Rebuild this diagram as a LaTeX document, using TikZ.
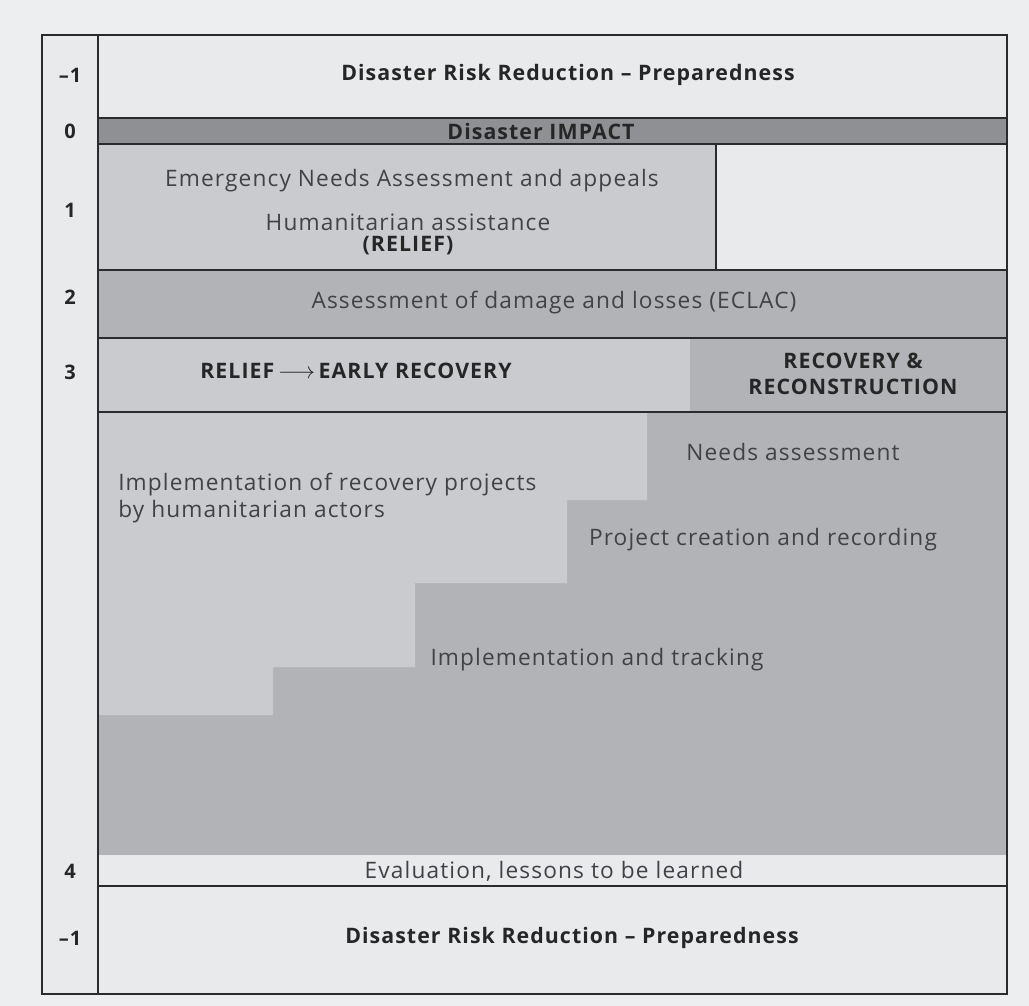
\documentclass[tikz,border=0pt]{standalone}
\usepackage{fontspec}
\setmainfont{Open Sans}[LetterSpace=5]
\usetikzlibrary{positioning}
\definecolor{pagebg}{HTML}{ECEEF0}
\definecolor{rowpale}{HTML}{E8EAEC}
\definecolor{rowdark}{HTML}{8E9093}
\definecolor{rowlight}{HTML}{C9CBCE}
\definecolor{rowmid}{HTML}{B1B3B6}
\definecolor{textgray}{HTML}{404246}
\definecolor{framecol}{HTML}{2A2B2D}
\tikzset{
  rowline/.style={draw=framecol,line width=1.6pt},
  bodytext/.style={font=\fontsize{17}{20}\selectfont,text=textgray,align=center,inner sep=0pt},
  headtext/.style={bodytext,font=\fontsize{16}{20}\selectfont\bfseries,text=black!85},
  numtext/.style={headtext,font=\fontsize{15}{17}\selectfont\bfseries}
}

\begin{document}
\begin{tikzpicture}[x=0.75pt,y=-0.75pt]
  \useasboundingbox (0,0) rectangle (1029,1006);
  \fill[pagebg] (0,0) rectangle (1029,1006);
  % row fills
  \fill[rowpale] (42,35) rectangle (98,994);
  \fill[rowpale] (98,35) rectangle (1007,118);
  \fill[rowdark] (98,118) rectangle (1007,144);
  \fill[rowlight] (98,144) rectangle (716,270);
  \fill[rowpale] (716,144) rectangle (1007,270);
  \fill[rowmid] (98,270) rectangle (1007,338);
  \fill[rowlight] (98,338) rectangle (690,412);
  \fill[rowmid] (690,338) rectangle (1007,412);
  \fill[rowmid] (98,412) rectangle (1007,855);
  \fill[rowlight] (98,412) -| (647,500) -| (567,583) -| (415,667) -| (273,715) -- (98,715) -- cycle;
  \fill[rowpale] (98,855) rectangle (1007,994);
  % frame
  \draw[rowline] (42,35) rectangle (1007,994);
  \draw[rowline] (98,35) -- (98,994);
  \foreach \yy in {118,144,270,338,412,886}
    \draw[rowline] (98,\yy) -- (1007,\yy);
  \draw[rowline] (716,144) -- (716,270);

  % phase numbers
  \foreach \num/\yy/\tag in {{--1}/75/a, 0/131/b, 1/210/c, 2/297/d, 3/372/e, 4/871/f, {--1}/938/g}
    \node[numtext] (num-\tag) at (70,\yy) {\num};

  % texts
  \node[headtext] (drrtop) at (568,75) {Disaster Risk Reduction -- Preparedness};
  \node[headtext] (impact) at (541,131) {Disaster IMPACT};
  \node[bodytext] (ena) at (412,181) {Emergency Needs Assessment and appeals};
  \node[bodytext] (huma) at (408,222) {Humanitarian assistance};
  \node[headtext,below=4pt of huma] (relief) {(RELIEF)};
  \node[bodytext] (eclac) at (554,303) {Assessment of damage and losses (ECLAC)};
  \node[headtext] (early) at (356,371) {RELIEF\,$\longrightarrow$\,EARLY RECOVERY};
  \node[headtext] (recon) at (853,374) {RECOVERY \&\\RECONSTRUCTION};
  \node[bodytext,align=left,anchor=west] (impl) at (118,498) {Implementation of recovery projects\\by humanitarian actors};
  \node[bodytext] (needs) at (793,452) {Needs assessment};
  \node[bodytext] (proj) at (763,540) {Project creation and recording};
  \node[bodytext] (track) at (597,660) {Implementation and tracking};
  \node[bodytext] (evalu) at (554,871) {Evaluation, lessons to be learned};
  \node[headtext] (drrbot) at (572,938) {Disaster Risk Reduction -- Preparedness};
\end{tikzpicture}
\end{document}
